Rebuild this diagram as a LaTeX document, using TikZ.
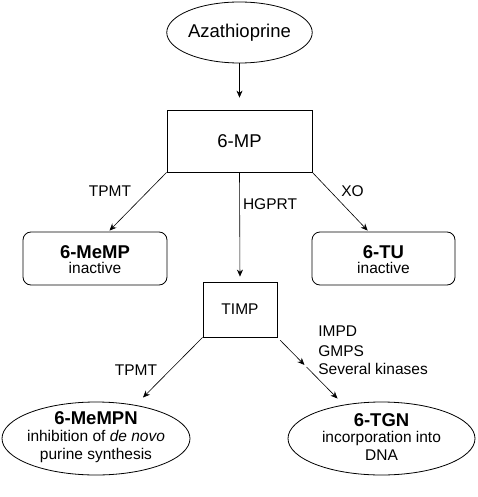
\documentclass[tikz,border=0pt]{standalone}
\usepackage{fontspec}
\setmainfont{Liberation Sans}
\usetikzlibrary{shapes.geometric,arrows.meta,calc}
\begin{document}
\begin{tikzpicture}[x=1pt,y=-1pt,
  line width=0.8pt,
  big/.style={font=\fontsize{18.5}{21}\selectfont},
  small/.style={font=\fontsize{15.5}{18}\selectfont},
  title/.style={font=\fontsize{18.5}{21}\selectfont\bfseries},
  ell/.style={draw,ellipse,inner sep=0pt},
  box/.style={draw,rectangle,inner sep=0pt},
  rbox/.style={draw,rectangle,rounded corners=8pt,inner sep=0pt},
  arr/.style={-{Stealth[length=7pt,width=6pt]},line width=0.6pt},
  lbl/.style={small,anchor=base,inner sep=0pt},
  ttl/.style={title,anchor=base,inner sep=0pt}
]
\useasboundingbox[fill=white] (0,0) rectangle (478,497);

% shapes
\node[ell,big,minimum width=145pt,minimum height=61pt] (aza) at (239.5,32.5) {Azathioprine};
\node[box,big,minimum width=145pt,minimum height=62pt] (mp) at (239.5,141) {6-MP};
\node[rbox,minimum width=144pt,minimum height=53pt] (memp) at (95,258.5) {};
\node[rbox,minimum width=143pt,minimum height=53pt] (tu) at (383.5,258.5) {};
\node[box,small,minimum width=74pt,minimum height=55pt] (timp) at (240,309.5) {TIMP};
\node[ell,minimum width=188pt,minimum height=73pt] (mempn) at (96,438.5) {};
\node[ell,minimum width=187pt,minimum height=73pt] (tgn) at (381.5,438.5) {};

% texts inside shapes
\node[ttl] (t1) at (95,258) {6-MeMP};
\node[lbl] (t2) at (95,273) {inactive};
\node[ttl] (t3) at (383.5,258) {6-TU};
\node[lbl] (t4) at (383.5,273) {inactive};
\node[ttl] (t5) at (96,424) {6-MeMPN};
\node[lbl] (t6) at (96,441) {inhibition of \textit{de novo}};
\node[lbl] (t7) at (96,459) {purine synthesis};
\node[ttl] (t8) at (381.5,426) {6-TGN};
\node[lbl] (t9) at (381.5,442) {incorporation into};
\node[lbl] (t10) at (381.5,460) {DNA};

% labels
\node[lbl] (l1) at (110,196) {TPMT};
\node[lbl] (l2) at (352.5,196) {XO};
\node[lbl] (l3) at (270,209) {HGPRT};
\node[lbl] (l4) at (136,375) {TPMT};
\node[lbl,anchor=base west] (l5) at (318,336) {IMPD};
\node[lbl,anchor=base west] (l6) at (318,356) {GMPS};
\node[lbl,anchor=base west] (l7) at (318,374) {Several kinases};

% connectors
\draw[arr,shorten >=12pt] (aza.south) -- (mp.north);
\draw[arr] (mp.south west) -- ($(memp.north west)!0.6!(memp.north east)+(0,-1)$);
\draw[arr] (mp.south east) -- ($(tu.north west)!0.39!(tu.north east)+(0,-1)$);
\draw[arr,shorten >=5pt] (mp.south) -- (timp.north);
\draw[arr] (timp.south west) -- ($(mempn.center)+(47,-41)$);
\coordinate (tgnin) at ($(tgn.center)+(-44,-40)$);
\coordinate (tgnmid) at ($(timp.south east)!0.45!(tgnin)$);
\draw[arr,shorten <=4pt] (timp.south east) -- (tgnmid);
\draw[arr,shorten <=3pt] (tgnmid) -- (tgnin);
\end{tikzpicture}
\end{document}
